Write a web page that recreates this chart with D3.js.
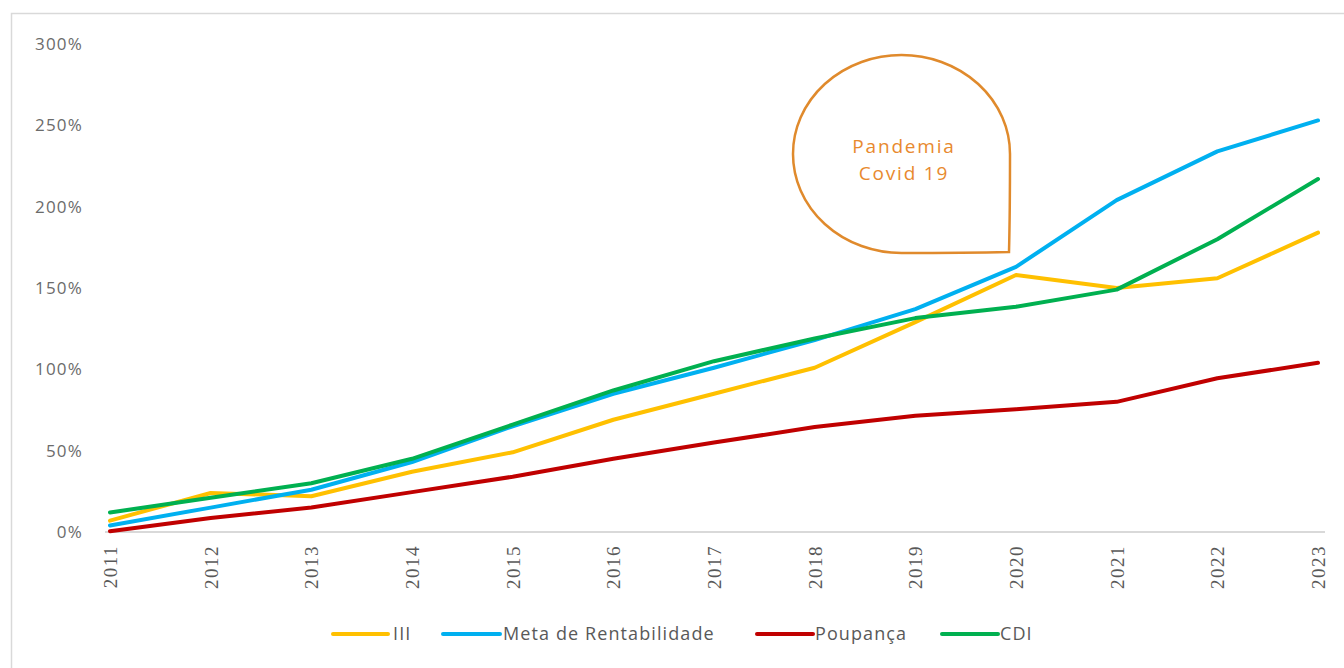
<!DOCTYPE html>
<html>
<head>
<meta charset="utf-8">
<script src="https://cdn.jsdelivr.net/npm/d3@7"></script>
<style>
  html, body { margin: 0; padding: 0; background: #fff; }
  svg { display: block; }
</style>
</head>
<body>
<svg id="chart" width="1344" height="668"></svg>
<script>
const years = [2011, 2012, 2013, 2014, 2015, 2016, 2017, 2018, 2019, 2020, 2021, 2022, 2023];
const iii       = [7, 24, 22, 37, 49, 69, 85, 101, 129, 158, 150, 156, 184];
const meta      = [4, 15, 26, 43, 65, 85, 101, 118, 137, 163, 204, 234, 253];
const poupanca  = [0.5, 8.6, 15, 24.5, 34, 45, 55, 64.5, 71.5, 75.5, 80, 94.5, 104];
const cdi       = [12, 21, 30, 45, 66, 87, 105, 119, 131.5, 138.5, 149, 180, 217];
const yTicks    = [0, 50, 100, 150, 200, 250, 300];
const seriesNames  = ["III", "Meta de Rentabilidade", "Poupança", "CDI"];
const seriesColors = ["#FFC000", "#00B0F0", "#C00000", "#00B050"];
const calloutLines = ["Pandemia", "Covid 19"];

const series = [iii, meta, poupanca, cdi];
const svg = d3.select("#chart");

// outer frame
svg.append("rect").attr("x", 11.5).attr("y", 13.5).attr("width", 1400).attr("height", 700)
  .attr("fill", "none").attr("stroke", "#d9d9d9").attr("stroke-width", 1.5);

const x = d3.scalePoint().domain(years).range([110, 1318]);
const y = d3.scaleLinear().domain([0, 300]).range([532, 44]);

// y labels
const yAxis = d3.axisLeft(y).tickValues(yTicks).tickFormat(d => d + "%").tickSize(0).tickPadding(0);
const gy = svg.append("g").attr("transform", "translate(83,0)").call(yAxis);
gy.select(".domain").remove();
gy.selectAll("text").attr("fill", "#6b6b6b").style("font-family", "'Open Sans', sans-serif")
  .style("font-size", "17px").style("letter-spacing", "1.2px");

// x axis line
svg.append("line").attr("x1", x(2011) - 5).attr("x2", x(2023) + 7)
  .attr("y1", y(0)).attr("y2", y(0)).attr("stroke", "#d9d9d9").attr("stroke-width", 2);

const xAxis = d3.axisBottom(x).tickSize(0).tickPadding(0);
const gx = svg.append("g").attr("transform", "translate(0," + (y(0)) + ")").call(xAxis);
gx.select(".domain").remove();
gx.selectAll("text")
  .attr("transform", "rotate(-90)")
  .attr("x", -13).attr("y", 0).attr("dy", "0.35em")
  .attr("text-anchor", "end")
  .attr("fill", "#595959")
  .attr("font-family", "'Liberation Serif', 'DejaVu Serif', serif")
  .style("font-family", "'Liberation Serif', 'DejaVu Serif', serif")
  .style("font-size", "19px").style("letter-spacing", "1.5px");

// lines
const line = d3.line().x((d, i) => x(years[i])).y(d => y(d)).curve(d3.curveLinear);
series.forEach((s, k) => {
  svg.append("path").datum(s).attr("d", line)
    .attr("fill", "none").attr("stroke", seriesColors[k]).attr("stroke-width", 4)
    .attr("stroke-linejoin", "round").attr("stroke-linecap", "round");
});

// callout (teardrop)
const cx = 901.5, cy = 154, rx = 108.5, ry = 99;
const tipX = 1009, tipY = 252;
const dEl = `M${cx + rx},${cy} A${rx},${ry} 0 0 0 ${cx},${cy - ry} A${rx},${ry} 0 0 0 ${cx - rx},${cy} A${rx},${ry} 0 0 0 ${cx},${cy + ry} Q${cx + rx * 0.6},${cy + ry} ${tipX},${tipY} Q${cx + rx},${cy + ry * 0.6} ${cx + rx},${cy} Z`;
svg.append("path").attr("d", dEl).attr("fill", "none").attr("stroke", "#E08A2C").attr("stroke-width", 2.5);
calloutLines.forEach((t, i) => {
  svg.append("text").attr("text-anchor", "middle")
    .attr("x", 904).attr("y", 146 + i * 27).attr("dy", "0.35em")
    .attr("fill", "#E8892E").style("font-family", "'Open Sans', sans-serif")
    .style("font-size", "19px").style("letter-spacing", "1.8px")
    .text(t);
});

// legend
const legendY = 634;
const legendItems = [
  { x1: 333, x2: 388, tx: 393 },
  { x1: 443, x2: 500, tx: 503 },
  { x1: 757, x2: 813, tx: 815 },
  { x1: 942, x2: 998, tx: 1000 }
];
const lg = svg.append("g");
seriesNames.forEach((n, k) => {
  const it = legendItems[k];
  lg.append("line").attr("x1", it.x1).attr("x2", it.x2).attr("y1", legendY).attr("y2", legendY)
    .attr("stroke", seriesColors[k]).attr("stroke-width", 4).attr("stroke-linecap", "round");
  lg.append("text").attr("x", it.tx).attr("y", legendY).attr("dy", "0.35em")
    .attr("fill", "#595959").style("font-family", "'Open Sans', sans-serif").style("font-size", "18px")
    .style("letter-spacing", "1.1px")
    .text(n);
});
</script>
</body>
</html>
